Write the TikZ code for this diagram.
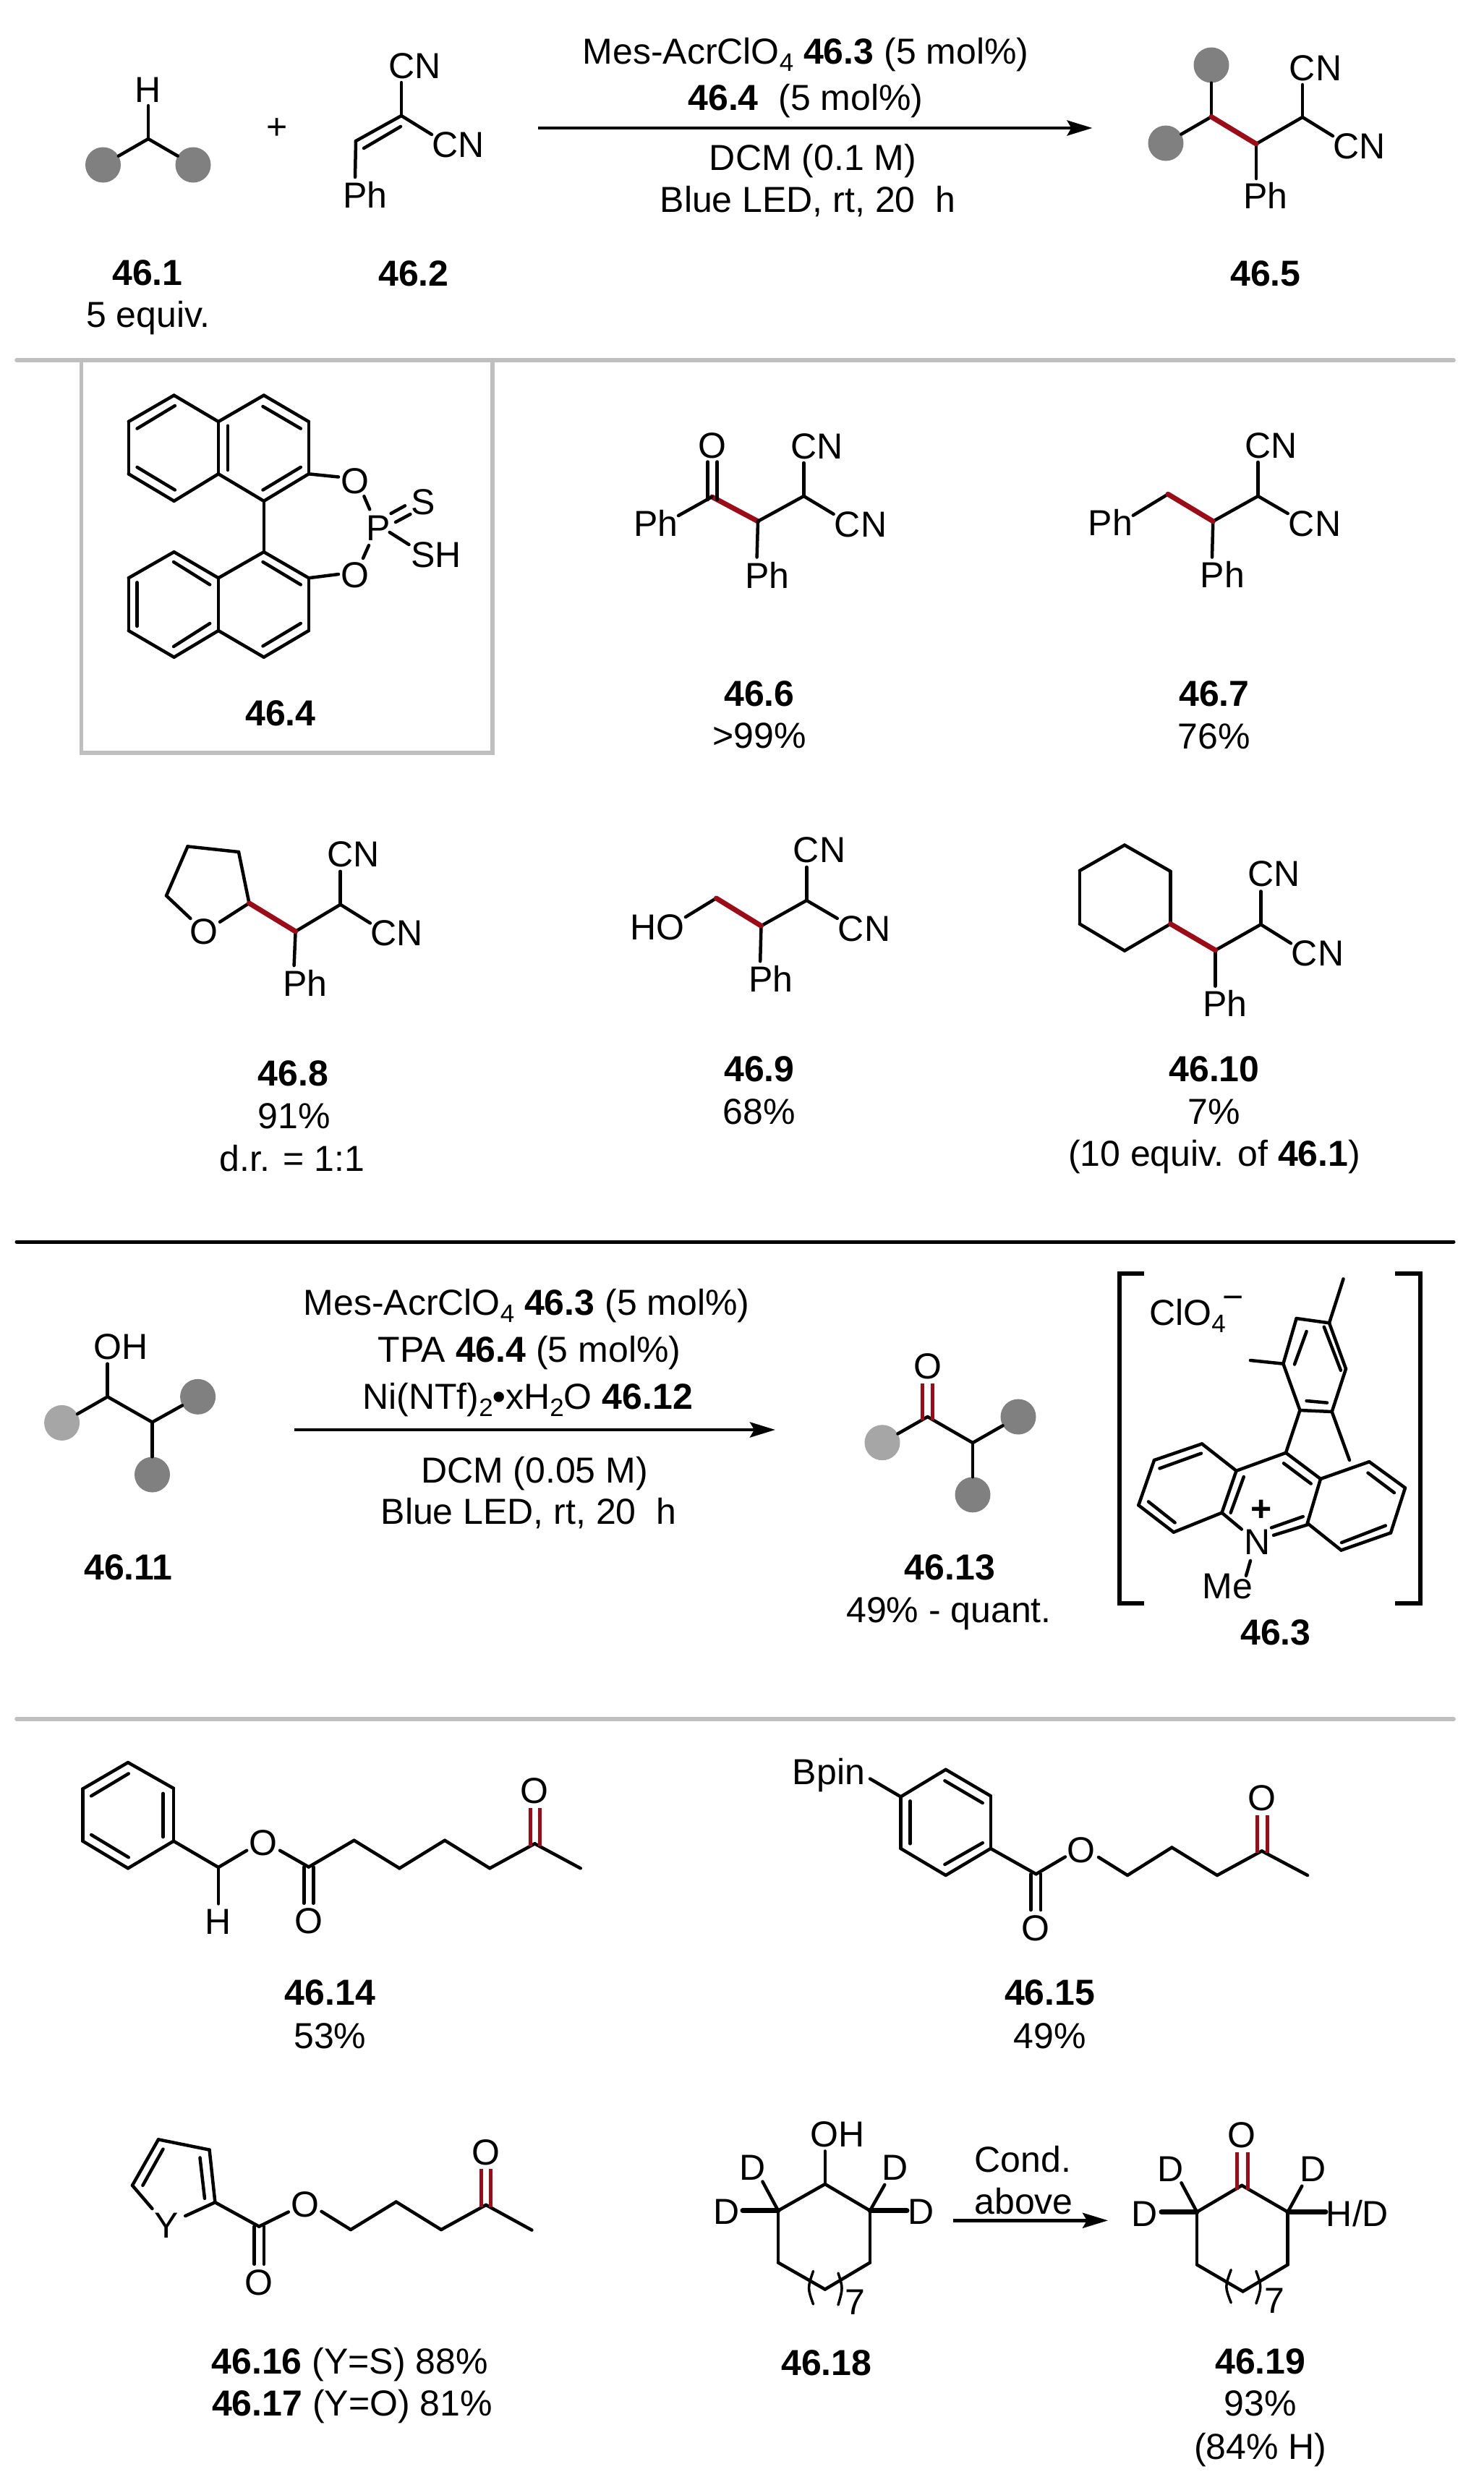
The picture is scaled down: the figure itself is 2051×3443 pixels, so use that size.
\documentclass[tikz,border=0pt]{standalone}
\usepackage{fontspec}
\setmainfont{Liberation Sans}
\usetikzlibrary{arrows.meta}
\definecolor{redbond}{HTML}{9B0B18}
\definecolor{sepgrey}{HTML}{BFBFBF}
\tikzset{
  lab/.style={inner sep=0pt,anchor=base,font=\fontsize{50}{52}\selectfont},
  bond/.style={line width=4.5pt,line cap=round,line join=round},
  thickbond/.style={line width=7pt,line cap=round},
  redb/.style={line width=7pt,color=redbond,line cap=round},
  redd/.style={line width=5pt,color=redbond},
  blobd/.style={circle,fill=black!50,draw=none,minimum size=49pt,inner sep=0pt},
  blobl/.style={circle,fill=black!35,draw=none,minimum size=49pt,inner sep=0pt},
  sepline/.style={line width=5.6pt,color=sepgrey,line cap=round},
  blackline/.style={line width=5pt,line cap=round},
  rxnarrow/.style={line width=4.5pt,-{Stealth[length=35pt,width=21pt,inset=6pt]}},
  brack/.style={line width=6pt,line cap=butt,line join=miter},
  pgroup/.style={bond}
}
\newcommand\Lab[4]{\node[lab] (#1) at (#2,#3) {#4};}
\newcommand\Pts[1]{\foreach \n/\x/\y in {#1} {\coordinate (\n) at (\x,\y);}}
\newcommand\Bn[1]{\foreach \p/\q in {#1} {\draw[bond] (\p) -- (\q);}}
\newcommand\Rd[1]{\foreach \p/\q in {#1} {\draw[redb] (\p) -- (\q);}}
\newcommand\Rdd[1]{\foreach \p/\q in {#1} {\draw[redd] (\p) -- (\q);}}
\newcommand\Tk[1]{\foreach \p/\q in {#1} {\draw[thickbond] (\p) -- (\q);}}
\newcommand\Sbs[1]{\raisebox{-0.2em}{\fontsize{35}{35}\selectfont #1}}
\begin{document}
\begin{tikzpicture}[x=1pt,y=-1pt]
\useasboundingbox (0,0) rectangle (2051,3443);
\fill[white] (0,0) rectangle (2051,3443);
% separators
\Pts{sAl/23/498,sAr/2010/498,sBl/23/1717,sBr/2010/1717,sCl/23/2377,sCr/2010/2377,
 boxA/112.5/498,boxB/112.5/1041,boxC/681/1041,boxD/681/498}
\draw[sepline,line cap=butt] (boxA) -- (boxB) -- (boxC) -- (boxD);
\draw[sepline] (sAl) -- (sAr);
\draw[blackline] (sBl) -- (sBr);
\draw[sepline] (sCl) -- (sCr);

% 46.1
\node[blobd] (aL) at (142.5,228) {};
\node[blobd] (aR) at (267,228) {};
\Pts{aC/205/192,aH/205/146}
\Bn{aC/aH,aC/aL,aC/aR}
\Lab{aHt}{204.6}{141}{H}
\Lab{plusA}{383}{192}{+}
\Lab{lA}{204}{394}{\bfseries 46.1}
\Lab{lAb}{205}{452.6}{5 equiv.}
% 46.2
\Pts{bT/555/114,bC/555/160,bR/597/186,bCH/492/195,bP/491/245,bIa/503/205,bIb/554/175}
\Bn{bT/bC,bC/bR,bC/bCH,bCH/bP,bIa/bIb}
\Lab{bCN}{574}{108.4}{CN}
\Lab{bCNr}{634}{217}{CN}
\Lab{bPh}{505}{287}{Ph}
\Lab{lB}{572}{395}{\bfseries 46.2}
% arrow 1
\Pts{arAa/744/177,arAb/1510.5/177}
\draw[rxnarrow] (arAa) -- (arAb);
\Lab{cA1}{1114}{88}{Mes-AcrClO\Sbs{4} \textbf{46.3} (5 mol\%)}
\Lab{cA2}{1114}{152.5}{\textbf{46.4}\ \ (5 mol\%)}
\Lab{cA3}{1124}{235}{DCM (0.1 M)}
\Lab{cA4}{1117}{293}{Blue LED, rt, 20\ \ h}
% 46.5
\node[blobd] (eU) at (1675,90) {};
\node[blobd] (eL) at (1612,198) {};
\Pts{eA/1675/161.5,eB/1737/199,eC/1801/162,eD/1737/247,eT/1801/117,eR/1843/188}
\Bn{eA/eU,eA/eL,eB/eC,eB/eD,eC/eT,eC/eR}
\Rd{eA/eB}
\Lab{eCN}{1819}{111}{CN}
\Lab{eCNr}{1879.5}{219}{CN}
\Lab{ePh}{1750}{288.5}{Ph}
\Lab{lE}{1750}{395}{\bfseries 46.5}

% 46.4 BINOL
\Pts{ta/240.6/546.6,tb/177.8/583,tc/177.8/655.3,td/240.6/692.8,te/302/655.3,tf/302/583,
 tg/364.8/546.6,th/426.9/583,ti/426.9/655.3,tj/364.8/692.8,
 ua/364.8/763.2,ub/426.9/799.2,uc/426.9/872,ud/364.8/908.7,ue/302/872,uf/302/799.2,
 ug/240.6/763.2,uh/177.8/799.2,ui/177.8/872,uj/240.6/908.7,
 tia/241.9/561,tib/189.6/592.6,tic/189.6/646,tid/241.9/677.5,tie/315/588.7,tif/315/650,
 tig/363.5/562,tih/415.8/592.6,tii/415.8/646,tij/363.5/677.5,
 uia/363.5/777,uib/415.8/808.4,uic/415.8/862,uid/363.5/893.4,uie/290.2/808.4,uif/240/777,
 uig/189.6/805.3,uih/189.6/865.8,uii/290.2/862,uij/240/894,
 oa/468/659.5,ob/468/794,pa/503.4/686.3,pb/511.2/704.3,pc/510/754,pd/502/772,
 pe/540.6/710,pf/560/699.3,pg/547/722,ph/567.4/711,pi/538.7/736,pj/565.5/753}
\Bn{ta/tb,tb/tc,tc/td,td/te,te/tf,tf/ta,tf/tg,tg/th,th/ti,ti/tj,tj/te,tj/ua,
 ua/ub,ub/uc,uc/ud,ud/ue,ue/uf,uf/ua,uf/ug,ug/uh,uh/ui,ui/uj,uj/ue,
 tia/tib,tic/tid,tie/tif,tig/tih,tii/tij,uia/uib,uic/uid,uie/uif,uig/uih,uii/uij,
 ti/oa,ub/ob,pa/pb,pc/pd,pe/pf,pg/ph,pi/pj}
\Lab{oTop}{491}{682.5}{O}
\Lab{oBot}{491}{812.6}{O}
\Lab{pP}{523}{747}{P}
\Lab{pS}{585}{711}{S}
\Lab{pSH}{603}{784}{SH}
\Lab{lD}{388}{1003}{\bfseries 46.4}

% 46.6
\Pts{fC/984.5/687,fDa/978.6/638.5,fDb/978.6/691,fDc/991.7/638.5,fDd/991.7/691,fP/938/713,
 fB/1048/720.8,fD/1111.4/686,fT/1111.4/640,fR/1152.6/710.8,fS/1046.6/770.5}
\Rd{fC/fB}
\Bn{fDa/fDb,fDc/fDd,fC/fP,fB/fD,fD/fT,fD/fR,fB/fS}
\Lab{fPh}{906.7}{741.4}{Ph}
\Lab{fO}{984.5}{633.5}{O}
\Lab{fCN}{1129.7}{634.7}{CN}
\Lab{fCNr}{1190}{742.6}{CN}
\Lab{fPhb}{1061}{813.4}{Ph}
\Lab{lF}{1050}{976}{\bfseries 46.6}
\Lab{lFb}{1050}{1034.6}{>99\%}
% 46.7
\Pts{gA/1615/683.3,gP/1566.8/712.7,gB/1677.3/720.8,gC/1739.5/686,gT/1739.5/639,gR/1780.7/710,gS/1676/770.5}
\Bn{gA/gP,gB/gC,gC/gT,gC/gR,gB/gS}
\Rd{gA/gB}
\Lab{gPh}{1535.4}{740.7}{Ph}
\Lab{gCN}{1757.8}{633.5}{CN}
\Lab{gCNr}{1818}{741.8}{CN}
\Lab{gPhb}{1690.4}{812.6}{Ph}
\Lab{lG}{1679}{976}{\bfseries 46.7}
\Lab{lGb}{1679}{1035}{76\%}
% 46.8
\Pts{hA/259.5/1170.4,hB/330/1178,hC/344.5/1248.8,hD/230/1238.5,hE/263.4/1270,hF/304/1274.8,
 hG/408.6/1287.9,hH/470.7/1250.7,hT/470.7/1204.8,hR/511.9/1276.4,hS/406.6/1335}
\Bn{hD/hA,hA/hB,hB/hC,hD/hE,hC/hF,hG/hH,hH/hT,hH/hR,hG/hS}
\Rd{hC/hG}
\Lab{hO}{282.4}{1305.5}{O}
\Lab{hCN}{489}{1198.3}{CN}
\Lab{hCNr}{549}{1307.4}{CN}
\Lab{hPh}{421.6}{1377.8}{Ph}
\Lab{lH}{405.3}{1501.4}{\bfseries 46.8}
\Lab{lHb}{406.6}{1560.7}{91\%}
\Lab{lHc}{404}{1619}{d.r. = 1:1}
% 46.9
\Pts{iA/990.4/1242,iP/947.9/1268,iB/1052.5/1280.2,iC/1115.3/1245,iT/1115.3/1199,iR/1157.8/1269.9,iS/1051.2/1329.2}
\Bn{iA/iP,iB/iC,iC/iT,iC/iR,iB/iS}
\Rd{iA/iB}
\Lab{iHO}{908.7}{1299.3}{HO}
\Lab{iCN}{1133}{1192.6}{CN}
\Lab{iCNr}{1195}{1301.2}{CN}
\Lab{iPh}{1065.6}{1371.3}{Ph}
\Lab{lI}{1050}{1495}{\bfseries 46.9}
\Lab{lIb}{1050}{1554}{68\%}
% 46.10
\Pts{jA/1555/1168.5,jB/1618.5/1204.8,jC/1618.5/1277.5,jD/1555/1314.6,jE/1492.8/1277.5,jF/1492.8/1204,
 jG/1680.6/1313.9,jH/1743.4/1278.3,jT/1743.4/1232.4,jR/1785/1304.3,jS/1680.6/1363.6}
\Bn{jA/jB,jB/jC,jC/jD,jD/jE,jE/jF,jF/jA,jG/jH,jH/jT,jH/jR,jG/jS}
\Rd{jC/jG}
\Lab{jCN}{1761.8}{1225.9}{CN}
\Lab{jCNr}{1822}{1335}{CN}
\Lab{jPh}{1693.7}{1405.7}{Ph}
\Lab{lJ}{1679}{1495}{\bfseries 46.10}
\Lab{lJb}{1679}{1554}{7\%}
\Lab{lJc}{1679}{1612.4}{(10 equiv. of \textbf{46.1})}

% 46.11
\node[blobl] (kL) at (85.6,1967.4) {};
\node[blobd] (kR) at (273.6,1931.3) {};
\node[blobd] (kD) at (210.5,2039) {};
\Pts{kT/148.7/1885.7,kA/148.7/1931.3,kB/210.5/1966.5}
\Bn{kT/kA,kA/kL,kA/kB,kB/kR,kB/kD}
\Lab{kOH}{167}{1879}{OH}
\Lab{lK}{177.5}{2184}{\bfseries 46.11}
% arrow 2
\Pts{arBa/406.9/1977,arBb/1072/1977}
\draw[rxnarrow] (arBa) -- (arBb);
\Lab{cB1}{728}{1818}{Mes-AcrClO\Sbs{4} \textbf{46.3} (5 mol\%)}
\Lab{cB2}{732}{1883}{TPA \textbf{46.4} (5 mol\%)}
\Lab{cB3}{729.6}{1948.7}{Ni(NTf)\Sbs{2}\textbf{•}xH\Sbs{2}O \textbf{46.12}}
\Lab{cB4}{739}{2050}{DCM (0.05 M)}
\Lab{cB5}{731}{2107.5}{Blue LED, rt, 20\ \ h}
% 46.13
\node[blobl] (mL) at (1220,1994.7) {};
\node[blobd] (mR) at (1408,1959) {};
\node[blobd] (mD) at (1345,2066.8) {};
\Pts{mA/1282.6/1959,mB/1345/1995,mDa/1275.9/1912.6,mDb/1275.9/1964.4,mDc/1289.2/1912.6,mDd/1289.2/1964.4}
\Bn{mA/mL,mA/mB,mB/mR,mB/mD}
\Rdd{mDa/mDb,mDc/mDd}
\Lab{mO}{1282.6}{1906.4}{O}
\Lab{lM}{1313.5}{2184}{\bfseries 46.13}
\Lab{lMb}{1312}{2243}{49\% - quant.}
% brackets
\Pts{brA/1582/1760.5,brB/1547.6/1760.5,brC/1547.6/2217,brD/1582/2217,
 brE/1929/1760.5,brF/1963.7/1760.5,brG/1963.7/2217,brH/1929/2217}
\draw[brack] (brA) -- (brB) -- (brC) -- (brD);
\draw[brack] (brE) -- (brF) -- (brG) -- (brH);
\Lab{nClO}{1642}{1832.6}{ClO\Sbs{4}}
\Lab{nMinus}{1705}{1810.5}{−}
% 46.3 mesityl
\Pts{na/1792.6/1823,nb/1838/1829.3,nc/1861/1892.7,nd/1841.7/1952,ne/1797.5/1950,nf/1774.4/1885.7,
 nMa/1857.5/1768.4,nMb/1729/1881,
 nia/1806.6/1841,nib/1790/1886.5,nic/1830.8/1834.7,nid/1853.9/1894.8,nie/1806.6/1937,nif/1835/1939.6,
 qa/1778/2008.8,qb/1826/2044.9,qc/1893.3/2021.2,qd/1943/2057.3,qe/1923/2119.5,qf/1854.5/2143.5,qg/1807.8/2106.2,
 qh/1689.5/2091.7,qi/1622.8/2118.6,qj/1574.3/2081.3,qk/1596/2019,ql/1662/1996.4,qm/1709.5/2033.7,
 qn/1866/2019,qN/1716.8/2114.5,
 qda/1758/2112.4,qdb/1801.7/2097,qdc/1761/2122.8,qdd/1807.8/2108.3,
 qia/1775/2023.3,qib/1812.7/2051.5,qic/1891.5/2036.6,qid/1927.9/2064,qie/1915.8/2109.5,qif/1855/2133,
 qig/1719.8/2042,qih/1701.7/2091.7,qii/1624.6/2105.4,qij/1588/2076.4,qik/1603.4/2030.4,qil/1661/2009.6,
 qMa/1729/2158,qMb/1723/2178.8}
\Bn{na/nb,nb/nc,nc/nd,nd/ne,ne/nf,nf/na,nb/nMa,nf/nMb,nia/nib,nic/nid,nie/nif,ne/qa,nd/qn,
 qa/qb,qb/qc,qc/qd,qd/qe,qe/qf,qf/qg,qg/qb,qa/qm,qm/ql,ql/qk,qk/qj,qj/qi,qi/qh,qh/qm,qh/qN,
 qda/qdb,qdc/qdd,qia/qib,qic/qid,qie/qif,qig/qih,qii/qij,qik/qil,qMa/qMb}
\Lab{qPlus}{1744}{2103.6}{\bfseries +}
\Lab{qNt}{1738.6}{2149.7}{N}
\Lab{qMe}{1697.4}{2210.7}{Me}
\Lab{lN}{1764}{2274}{\bfseries 46.3}

% 46.14
\Pts{ra/177/2437,rb/240/2472.8,rc/240/2545.7,rd/177/2583.3,re/114.4/2545.7,rf/114.4/2473.5,
 ria/177.8/2452.4,rib/126.2/2483.3,ric/225.5/2479.8,rid/225.5/2540,rie/177.8/2568.2,rif/126.2/2537,
 rg/302/2582,rH/302/2632.4,rO/341.2/2558.7,rOb/387/2558.7,rh/426.9/2581.5,
 rDa/420.3/2581.5,rDb/420.3/2631.7,rDc/433.4/2581.5,rDd/433.4/2631.7,
 rk/489.6/2544.7,rl/552.4/2583.3,rm/615/2544.7,rn/677.2/2583.3,ro/739.4/2549.3,rp/802.7/2583.3,
 rRa/733.5/2500,rRb/733.5/2552.8,rRc/746.5/2500,rRd/746.5/2552.8}
\Bn{ra/rb,rb/rc,rc/rd,rd/re,re/rf,rf/ra,ria/rib,ric/rid,rie/rif,rc/rg,rg/rH,rg/rO,rOb/rh,
 rDa/rDb,rDc/rDd,rh/rk,rk/rl,rl/rm,rm/rn,rn/ro,ro/rp}
\Rdd{rRa/rRb,rRc/rRd}
\Lab{rHt}{302}{2674.5}{H}
\Lab{rOt}{364}{2565}{O}
\Lab{rOc}{426.9}{2673.8}{O}
\Lab{rOk}{739.4}{2493.8}{O}
\Lab{lR}{456.3}{2772}{\bfseries 46.14}
\Lab{lRb}{456.3}{2832}{53\%}
% 46.15
\Pts{vBa/1203/2459.5,va/1245.5/2484.4,vb/1307.7/2446.8,vc/1369.8/2483.3,vd/1369.8/2556,ve/1307.7/2593,vf/1245.5/2556,
 via/1306.4/2462.3,vib/1358.7/2493,vic/1258.6/2490.3,vid/1258.6/2549.3,vie/1358.7/2548.2,vif/1306.4/2578,
 vg/1432.6/2591.3,vO/1473/2567.5,vDa/1425.4/2591.3,vDb/1425.4/2641,vDc/1439.2/2591.3,vDd/1439.2/2641,
 vOb/1519/2568,vk/1559/2593,vl/1620.4/2554.5,vm/1683/2593,vn/1744.7/2559.4,vo/1808/2593,
 vRa/1738.8/2509.6,vRb/1738.8/2562.2,vRc/1752.6/2509.6,vRd/1752.6/2562.2}
\Bn{vBa/va,va/vb,vb/vc,vc/vd,vd/ve,ve/vf,vf/va,via/vib,vic/vid,vie/vif,vd/vg,vg/vO,vDa/vDb,vDc/vDd,
 vOb/vk,vk/vl,vl/vm,vm/vn,vn/vo}
\Rdd{vRa/vRb,vRc/vRd}
\Lab{vBpin}{1146}{2467.5}{Bpin}
\Lab{vOt}{1494.8}{2575}{O}
\Lab{vOc}{1432}{2683.3}{O}
\Lab{vOk}{1744.7}{2503.3}{O}
\Lab{lV}{1451.6}{2772}{\bfseries 46.15}
\Lab{lVb}{1451.6}{2832}{49\%}
% 46.16
\Pts{wa/219/2958.3,wb/289.6/2972.6,wc/297.4/3045.2,wd/183/3021.8,we/210.5/3054,wf/256.3/3064,
 wia/225.5/2971.6,wib/197.4/3021.8,wic/276.5/2983.4,wid/283/3039.8,
 wg/358.2/3078.6,wO/398.8/3058.5,wDa/351.7/3078.6,wDb/351.7/3130.7,wDc/364.8/3078.6,wDd/364.8/3130.7,
 wOb/444.5/3057.8,wk/485/3083,wl/547.8/3044.5,wm/610/3083,wn/672/3048.8,wo/735.4/3083.6,
 wRa/665.5/2999,wRb/665.5/3051.7,wRc/678.5/2999,wRd/678.5/3051.7}
\Bn{wd/wa,wa/wb,wb/wc,wd/we,wc/wf,wia/wib,wic/wid,wc/wg,wg/wO,wDa/wDb,wDc/wDd,wOb/wk,wk/wl,wl/wm,wm/wn,wn/wo}
\Rdd{wRa/wRb,wRc/wRd}
\Lab{wY}{230}{3094.4}{Y}
\Lab{wOt}{421.6}{3065}{O}
\Lab{wOc}{358.2}{3173.7}{O}
\Lab{wOk}{672}{2993}{O}
\Lab{lW}{483.6}{3282}{\textbf{46.16} (Y=S) 88\%}
\Lab{lWb}{487}{3340.7}{\textbf{46.17} (Y=O) 81\%}
% 46.18
\Pts{xT/1140.8/2974.4,xa/1140.8/3020,xb/1203/3056.7,xc/1203/3128.5,xd/1140.8/3165.5,xe/1076/3128.5,xf/1076/3056.7,
 xDa/1054.4/3016.5,xDb/1027/3056.7,xDc/1223.3/3020.8,xDd/1254/3056.7,
 xPa/1124.5/3140.3,xPb/1116.6/3163.7,xPc/1124.5/3186,xPd/1159/3143,xPe/1165.7/3163.7,xPf/1159/3187}
\Bn{xT/xa,xa/xb,xb/xc,xc/xd,xd/xe,xe/xf,xf/xa,xf/xDa,xb/xDc}
\Tk{xf/xDb,xb/xDd}
\draw[bond,line width=3.5pt] (xPa) .. controls (xPb) .. (xPc);
\draw[bond,line width=3.5pt] (xPd) .. controls (xPe) .. (xPf);
\Lab{xOH}{1157.8}{2968}{OH}
\Lab{xD1}{1041}{3014.7}{D}
\Lab{xD2}{1005}{3075.7}{D}
\Lab{xD3}{1237.6}{3014.7}{D}
\Lab{xD4}{1273.6}{3075.7}{D}
\Lab{xSeven}{1182}{3200.7}{7}
\Lab{lX}{1142.8}{3284.7}{\bfseries 46.18}
% arrow 3
\Pts{arCa/1318/3070.3,arCb/1532/3070.3}
\draw[rxnarrow] (arCa) -- (arCb);
\Lab{cC1}{1414.3}{3003.9}{Cond.}
\Lab{cC2}{1415.6}{3061.3}{above}
% 46.19
\Pts{ya/1717.2/3021.8,yb/1780.7/3058.5,yc/1780.7/3131.4,yd/1718.6/3168.4,ye/1655/3131.4,yf/1655/3058.5,
 yRa/1710.7/2976,yRb/1710.7/3028,yRc/1725/2976,yRd/1725/3028,
 yDa/1633.5/3018.3,yDb/1606/3058.5,yDc/1800.3/3022.6,yDd/1833/3058.5,
 yPa/1702.2/3138.5,yPb/1693.7/3162,yPc/1702.2/3184,yPd/1736.9/3140.3,yPe/1744.7/3162,yPf/1736.9/3185}
\Bn{ya/yb,yb/yc,yc/yd,yd/ye,ye/yf,yf/ya,yf/yDa,yb/yDc}
\Tk{yf/yDb,yb/yDd}
\Rdd{yRa/yRb,yRc/yRd}
\draw[bond,line width=3.5pt] (yPa) .. controls (yPb) .. (yPc);
\draw[bond,line width=3.5pt] (yPd) .. controls (yPe) .. (yPf);
\Lab{yO}{1717}{2969.8}{O}
\Lab{yD1}{1619}{3016.5}{D}
\Lab{yD2}{1583}{3078.2}{D}
\Lab{yD3}{1815.4}{3016.5}{D}
\Lab{yHD}{1877}{3078.2}{H/D}
\Lab{ySeven}{1762.4}{3198.9}{7}
\Lab{lY}{1742.8}{3282}{\bfseries 46.19}
\Lab{lYb}{1742.8}{3340.7}{93\%}
\Lab{lYc}{1742.8}{3400}{(84\% H)}
\end{tikzpicture}
\end{document}
